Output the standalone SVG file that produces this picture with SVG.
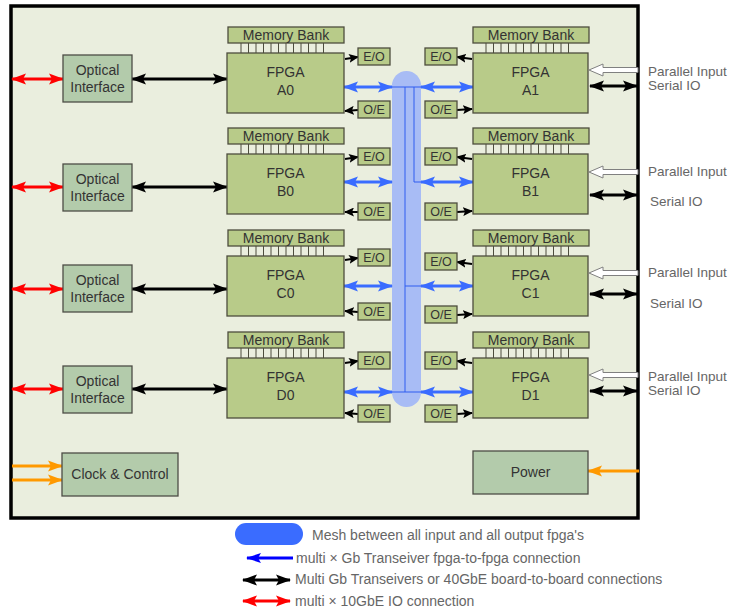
<svg xmlns="http://www.w3.org/2000/svg" width="732" height="611" viewBox="0 0 732 611">
<style>
text{font-family:"Liberation Sans",Arial,sans-serif;}
.frame{fill:#eaeede;stroke:#000;stroke-width:3.5}
.fpga{fill:#b8cb89;stroke:#4d4d3d;stroke-width:1.3}
.box{fill:#b3cbab;stroke:#4d4d45;stroke-width:1.3}
.pin{stroke:#4d4d3d;stroke-width:1}
.t{font-size:14px;fill:#333;text-anchor:middle}
.ts{font-size:12.5px;fill:#333;text-anchor:middle}
.lab{font-size:13.5px;fill:#666}
.leg{font-size:14px;fill:#666}
.blk{stroke:#000;stroke-width:3;fill:none;marker-start:url(#hk);marker-end:url(#hk)}
.red{stroke:#ff0000;stroke-width:3;fill:none;marker-start:url(#hr);marker-end:url(#hr)}
.blu{stroke:#3a6cff;stroke-width:3;fill:none;marker-start:url(#hb);marker-end:url(#hb)}
.sm{stroke:#000;stroke-width:2;fill:none;marker-end:url(#hs)}
.org{stroke:#ff9900;stroke-width:3;fill:none;marker-end:url(#ho)}
.hol{fill:#fff;stroke:#808080;stroke-width:1}
.mline{stroke:#2f5df0;stroke-width:1;fill:none}
</style>
<defs>
<marker id="hk" markerUnits="userSpaceOnUse" markerWidth="15" markerHeight="12" refX="14" refY="6" orient="auto-start-reverse"><path d="M0,0.5 L15,6 L0,11.5 L3,6z" fill="#000"/></marker>
<marker id="hr" markerUnits="userSpaceOnUse" markerWidth="15" markerHeight="12" refX="14" refY="6" orient="auto-start-reverse"><path d="M0,0.5 L15,6 L0,11.5 L3,6z" fill="#ff0000"/></marker>
<marker id="hb" markerUnits="userSpaceOnUse" markerWidth="15" markerHeight="12" refX="14" refY="6" orient="auto-start-reverse"><path d="M0,0.5 L15,6 L0,11.5 L3,6z" fill="#3a6cff"/></marker>
<marker id="hd" markerUnits="userSpaceOnUse" markerWidth="15" markerHeight="12" refX="14" refY="6" orient="auto-start-reverse"><path d="M0,1 L15,6 L0,11 L3,6z" fill="#0000ff"/></marker>
<marker id="hs" markerUnits="userSpaceOnUse" markerWidth="10" markerHeight="9" refX="9" refY="4.5" orient="auto"><path d="M0,0 L10,4.5 L0,9 L2,4.5z" fill="#000"/></marker>
<marker id="ho" markerUnits="userSpaceOnUse" markerWidth="15" markerHeight="12" refX="14" refY="6" orient="auto"><path d="M0,0.5 L15,6 L0,11.5 L3,6z" fill="#ff9900"/></marker>
</defs>

<rect class="frame" x="11" y="6" width="627" height="512"/>

<!-- mesh -->
<g id="mesh">
<rect x="392" y="71" width="29" height="336" rx="14.5" fill="#a8bcf5"/>
<path class="mline" d="M392,87 H421 M405,87 V392 M414,87 V182 H421 M405,286 H421 M392,392 H421"/>
</g>

<!-- connectors -->
<g id="connectors">
<path class="red" d="M12,79 H63"/>
<path class="red" d="M12,187 H63"/>
<path class="red" d="M12,289 H63"/>
<path class="red" d="M12,389 H63"/>
<path class="blk" d="M132,79 H227"/>
<path class="blk" d="M132,187 H227"/>
<path class="blk" d="M132,289 H227"/>
<path class="blk" d="M132,389 H227"/>
<path class="blu" d="M344,87 H392"/>
<path class="blu" d="M421,87 H473"/>
<path class="blu" d="M344,182 H392"/>
<path class="blu" d="M421,182 H473"/>
<path class="blu" d="M344,286 H392"/>
<path class="blu" d="M421,286 H473"/>
<path class="blu" d="M344,392 H392"/>
<path class="blu" d="M421,392 H473"/>
<path class="sm" d="M345,59 L358,57"/>
<path class="sm" d="M358,110 L345,111"/>
<path class="sm" d="M345,159 L358,157"/>
<path class="sm" d="M358,212 L345,212"/>
<path class="sm" d="M345,260 L358,258"/>
<path class="sm" d="M358,312 L345,311"/>
<path class="sm" d="M345,363 L358,361"/>
<path class="sm" d="M358,414 L345,413"/>
<path class="sm" d="M472,59 L457,57"/>
<path class="sm" d="M457,110 L472,109"/>
<path class="sm" d="M472,159 L457,157"/>
<path class="sm" d="M457,212 L472,211"/>
<path class="sm" d="M472,264 L457,262"/>
<path class="sm" d="M457,315 L472,314"/>
<path class="sm" d="M472,363 L457,361"/>
<path class="sm" d="M457,414 L472,413"/>
<polygon class="hol" points="638,67.5 603,67.5 603,64 589,70 603,76 603,72.5 638,72.5"/>
<polygon class="hol" points="638,169.5 603,169.5 603,166 589,172 603,178 603,174.5 638,174.5"/>
<polygon class="hol" points="638,270.5 603,270.5 603,267 589,273 603,279 603,275.5 638,275.5"/>
<polygon class="hol" points="638,372.5 603,372.5 603,369 589,375 603,381 603,377.5 638,377.5"/>
<path class="blk" d="M590,86 H637"/>
<path class="blk" d="M590,195 H637"/>
<path class="blk" d="M590,294 H637"/>
<path class="blk" d="M590,391 H637"/>
<path class="org" d="M12,466 H62"/>
<path class="org" d="M12,480 H62"/>
<path class="org" d="M639,471 H588"/>
</g>

<g id="optA"><rect class="box" x="63" y="55" width="69" height="47"/><text class="t" x="97.5" y="75">Optical</text><text class="t" x="97.5" y="92">Interface</text></g>
<g id="optB"><rect class="box" x="63" y="164" width="69" height="47"/><text class="t" x="97.5" y="184">Optical</text><text class="t" x="97.5" y="201">Interface</text></g>
<g id="optC"><rect class="box" x="63" y="265" width="69" height="47"/><text class="t" x="97.5" y="285">Optical</text><text class="t" x="97.5" y="302">Interface</text></g>
<g id="optD"><rect class="box" x="63" y="366" width="69" height="47"/><text class="t" x="97.5" y="386">Optical</text><text class="t" x="97.5" y="403">Interface</text></g>

<g id="fpgaA0">
<rect class="fpga" x="228" y="27" width="116" height="16"/><text class="t" x="286" y="40">Memory Bank</text>
<path class="pin" d="M241,43V53M248.5,43V53M256,43V53M263.5,43V53M271,43V53M278.5,43V53M286,43V53M293.5,43V53M301,43V53M308.5,43V53M316,43V53M323.5,43V53"/>
<rect class="fpga" x="227" y="53" width="117" height="60"/><text class="t" x="285.5" y="77">FPGA</text><text class="t" x="285.5" y="95">A0</text>
</g>
<g id="fpgaB0">
<rect class="fpga" x="228" y="128" width="116" height="16"/><text class="t" x="286" y="141">Memory Bank</text>
<path class="pin" d="M241,144V154M248.5,144V154M256,144V154M263.5,144V154M271,144V154M278.5,144V154M286,144V154M293.5,144V154M301,144V154M308.5,144V154M316,144V154M323.5,144V154"/>
<rect class="fpga" x="227" y="154" width="117" height="60"/><text class="t" x="285.5" y="178">FPGA</text><text class="t" x="285.5" y="196">B0</text>
</g>
<g id="fpgaC0">
<rect class="fpga" x="228" y="230" width="116" height="16"/><text class="t" x="286" y="243">Memory Bank</text>
<path class="pin" d="M241,246V256M248.5,246V256M256,246V256M263.5,246V256M271,246V256M278.5,246V256M286,246V256M293.5,246V256M301,246V256M308.5,246V256M316,246V256M323.5,246V256"/>
<rect class="fpga" x="227" y="256" width="117" height="60"/><text class="t" x="285.5" y="280">FPGA</text><text class="t" x="285.5" y="298">C0</text>
</g>
<g id="fpgaD0">
<rect class="fpga" x="228" y="332" width="116" height="16"/><text class="t" x="286" y="345">Memory Bank</text>
<path class="pin" d="M241,348V358M248.5,348V358M256,348V358M263.5,348V358M271,348V358M278.5,348V358M286,348V358M293.5,348V358M301,348V358M308.5,348V358M316,348V358M323.5,348V358"/>
<rect class="fpga" x="227" y="358" width="117" height="60"/><text class="t" x="285.5" y="382">FPGA</text><text class="t" x="285.5" y="400">D0</text>
</g>

<g id="fpgaA1">
<rect class="fpga" x="473" y="27" width="116" height="16"/><text class="t" x="531" y="40">Memory Bank</text>
<path class="pin" d="M486,43V53M493.5,43V53M501,43V53M508.5,43V53M516,43V53M523.5,43V53M531,43V53M538.5,43V53M546,43V53M553.5,43V53M561,43V53M568.5,43V53"/>
<rect class="fpga" x="473" y="53" width="115" height="60"/><text class="t" x="530.5" y="77">FPGA</text><text class="t" x="530.5" y="95">A1</text>
</g>
<g id="fpgaB1">
<rect class="fpga" x="473" y="128" width="116" height="16"/><text class="t" x="531" y="141">Memory Bank</text>
<path class="pin" d="M486,144V154M493.5,144V154M501,144V154M508.5,144V154M516,144V154M523.5,144V154M531,144V154M538.5,144V154M546,144V154M553.5,144V154M561,144V154M568.5,144V154"/>
<rect class="fpga" x="473" y="154" width="115" height="60"/><text class="t" x="530.5" y="178">FPGA</text><text class="t" x="530.5" y="196">B1</text>
</g>
<g id="fpgaC1">
<rect class="fpga" x="473" y="230" width="116" height="16"/><text class="t" x="531" y="243">Memory Bank</text>
<path class="pin" d="M486,246V256M493.5,246V256M501,246V256M508.5,246V256M516,246V256M523.5,246V256M531,246V256M538.5,246V256M546,246V256M553.5,246V256M561,246V256M568.5,246V256"/>
<rect class="fpga" x="473" y="256" width="115" height="60"/><text class="t" x="530.5" y="280">FPGA</text><text class="t" x="530.5" y="298">C1</text>
</g>
<g id="fpgaD1">
<rect class="fpga" x="473" y="332" width="116" height="16"/><text class="t" x="531" y="345">Memory Bank</text>
<path class="pin" d="M486,348V358M493.5,348V358M501,348V358M508.5,348V358M516,348V358M523.5,348V358M531,348V358M538.5,348V358M546,348V358M553.5,348V358M561,348V358M568.5,348V358"/>
<rect class="fpga" x="473" y="358" width="115" height="60"/><text class="t" x="530.5" y="382">FPGA</text><text class="t" x="530.5" y="400">D1</text>
</g>

<g id="eoA0"><rect class="fpga" x="358" y="48" width="32" height="17"/><text class="ts" x="374" y="61">E/O</text></g>
<g id="oeA0"><rect class="fpga" x="358" y="101" width="32" height="17"/><text class="ts" x="374" y="114">O/E</text></g>
<g id="eoB0"><rect class="fpga" x="358" y="148" width="32" height="17"/><text class="ts" x="374" y="161">E/O</text></g>
<g id="oeB0"><rect class="fpga" x="358" y="203" width="32" height="17"/><text class="ts" x="374" y="216">O/E</text></g>
<g id="eoC0"><rect class="fpga" x="358" y="249" width="32" height="17"/><text class="ts" x="374" y="262">E/O</text></g>
<g id="oeC0"><rect class="fpga" x="358" y="303" width="32" height="17"/><text class="ts" x="374" y="316">O/E</text></g>
<g id="eoD0"><rect class="fpga" x="358" y="352" width="32" height="17"/><text class="ts" x="374" y="365">E/O</text></g>
<g id="oeD0"><rect class="fpga" x="358" y="405" width="32" height="17"/><text class="ts" x="374" y="418">O/E</text></g>
<g id="eoA1"><rect class="fpga" x="425" y="48" width="32" height="17"/><text class="ts" x="441" y="61">E/O</text></g>
<g id="oeA1"><rect class="fpga" x="425" y="101" width="32" height="17"/><text class="ts" x="441" y="114">O/E</text></g>
<g id="eoB1"><rect class="fpga" x="425" y="148" width="32" height="17"/><text class="ts" x="441" y="161">E/O</text></g>
<g id="oeB1"><rect class="fpga" x="425" y="203" width="32" height="17"/><text class="ts" x="441" y="216">O/E</text></g>
<g id="eoC1"><rect class="fpga" x="425" y="253" width="32" height="17"/><text class="ts" x="441" y="266">E/O</text></g>
<g id="oeC1"><rect class="fpga" x="425" y="306" width="32" height="17"/><text class="ts" x="441" y="319">O/E</text></g>
<g id="eoD1"><rect class="fpga" x="425" y="352" width="32" height="17"/><text class="ts" x="441" y="365">E/O</text></g>
<g id="oeD1"><rect class="fpga" x="425" y="405" width="32" height="17"/><text class="ts" x="441" y="418">O/E</text></g>

<g id="clock"><rect class="box" x="62" y="453" width="116" height="43"/><text class="t" x="120" y="479">Clock &amp; Control</text></g>
<g id="power"><rect class="box" x="473" y="451" width="115" height="43"/><text class="t" x="530.5" y="477">Power</text></g>

<g id="labels">
<text class="lab" x="648" y="76">Parallel Input</text><text class="lab" x="648" y="90">Serial IO</text>
<text class="lab" x="648" y="176">Parallel Input</text><text class="lab" x="650" y="206">Serial IO</text>
<text class="lab" x="648" y="277">Parallel Input</text><text class="lab" x="650" y="308">Serial IO</text>
<text class="lab" x="648" y="381">Parallel Input</text><text class="lab" x="648" y="395">Serial IO</text>
</g>

<g id="legend">
<rect x="235" y="523" width="68" height="22" rx="11" fill="#3a6cff"/>
<text class="leg" x="312" y="540">Mesh between all input and all output fpga's</text>
<path d="M293,558 H247" stroke="#0000ff" stroke-width="3" fill="none" marker-end="url(#hd)"/>
<text class="leg" x="296" y="563">multi × Gb Transeiver fpga-to-fpga connection</text>
<path class="blk" d="M243,580 H290"/>
<text class="leg" x="295" y="584">Multi Gb Transeivers or 40GbE board-to-board connections</text>
<path class="red" d="M243,601 H290"/>
<text class="leg" x="295" y="606">multi × 10GbE IO connection</text>
</g>
</svg>
